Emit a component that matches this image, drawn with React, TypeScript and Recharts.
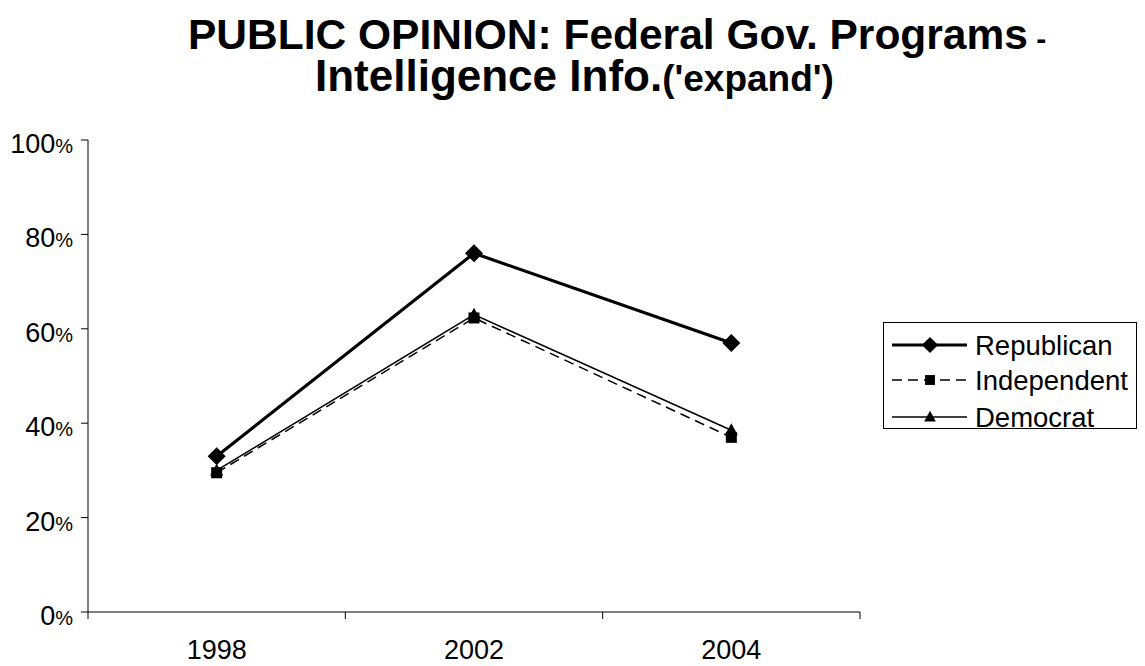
import React from 'react';
import { LineChart, Line, XAxis, YAxis, Legend } from 'recharts';

// survey years and share answering 'expand' (percent)
const years = ['1998', '2002', '2004'];
const republican = [33, 76, 57];
const independent = [29.5, 62.3, 37];
const democrat = [30, 63, 38.5];
const yTicks = [0, 20, 40, 60, 80, 100];

const data = years.map((year, i) => ({
  year,
  Republican: republican[i],
  Independent: independent[i],
  Democrat: democrat[i],
}));

const FONT = '"Liberation Sans", Arial, sans-serif';
const W = 1145;
const H = 666;
const PLOT_LEFT = 88;
const PLOT_RIGHT = 860;
const PLOT_TOP = 140;
const PLOT_BOTTOM = 612;
const HALF_BAND = (PLOT_RIGHT - PLOT_LEFT) / years.length / 2;

type Marker = 'diamond' | 'square' | 'triangle';

const SERIES: { key: string; width: number; dash?: string; marker: Marker }[] = [
  { key: 'Republican', width: 3.2, marker: 'diamond' },
  { key: 'Independent', width: 1.5, dash: '10 6', marker: 'square' },
  { key: 'Democrat', width: 1.5, marker: 'triangle' },
];

const markerShape = (kind: Marker, cx: number, cy: number, s = 1) => {
  if (kind === 'diamond') {
    const r = 9 * s;
    return <polygon points={`${cx},${cy - r} ${cx + r},${cy} ${cx},${cy + r} ${cx - r},${cy}`} fill="#000" />;
  }
  if (kind === 'square') {
    const h = 5.5 * s;
    return <rect x={cx - h} y={cy - h} width={h * 2} height={h * 2} fill="#000" />;
  }
  return <polygon points={`${cx},${cy - 7 * s} ${cx + 6.5 * s},${cy + 5 * s} ${cx - 6.5 * s},${cy + 5 * s}`} fill="#000" />;
};

const makeDot = (kind: Marker) => (props: any) => {
  const { cx, cy, index } = props;
  if (cx == null || cy == null) return <g key={index} />;
  return <g key={index}>{markerShape(kind, cx, cy)}</g>;
};

const XTick = (props: any) => {
  const { x, y, payload, index } = props;
  return (
    <g>
      <line x1={x - HALF_BAND} x2={x - HALF_BAND} y1={y} y2={y + 7} stroke="#000" />
      {index === years.length - 1 && (
        <line x1={x + HALF_BAND} x2={x + HALF_BAND} y1={y} y2={y + 7} stroke="#000" />
      )}
      <text x={x} y={y + 47} textAnchor="middle" fontFamily={FONT} fontSize={27} fill="#000">
        {payload.value}
      </text>
    </g>
  );
};

const YTick = (props: any) => {
  const { x, y, payload } = props;
  return (
    <g>
      <line x1={x - 7} x2={x} y1={y} y2={y} stroke="#000" />
      <text x={x - 15} y={y + 13} textAnchor="end" fontFamily={FONT} fill="#000">
        <tspan fontSize={27}>{payload.value}</tspan>
        <tspan fontSize={20}>%</tspan>
      </text>
    </g>
  );
};

const LegendBox = (props: any) => {
  const payload: any[] = props.payload || [];
  const rows = SERIES.filter((s) => payload.some((p) => p.dataKey === s.key || p.value === s.key));
  const rowY = [23, 58, 95];
  return (
    <svg width={258} height={108} style={{ display: 'block', overflow: 'visible' }}>
      <rect x={0.5} y={0.5} width={253} height={106} fill="#fff" stroke="#000" />
      {rows.map((s, i) => (
        <g key={s.key}>
          <line x1={9} x2={84} y1={rowY[i]} y2={rowY[i]} stroke="#000" strokeWidth={s.width} strokeDasharray={s.dash} />
          {markerShape(s.marker, 47, rowY[i], 0.9)}
          <text x={92} y={rowY[i] + 10} fontFamily={FONT} fontSize={27.5} fill="#000">
            {s.key}
          </text>
        </g>
      ))}
    </svg>
  );
};

export default function App() {
  return (
    <div style={{ position: 'absolute', left: 0, top: 0, width: W, height: H, background: '#fff' }}>
      <svg width={W} height={110} style={{ position: 'absolute', left: 0, top: 0, pointerEvents: 'none' }}>
        <text x={188} y={49} fontFamily={FONT} fontWeight="bold" fill="#000">
          <tspan fontSize={42.5}>PUBLIC OPINION: Federal Gov. Programs</tspan>
          <tspan fontSize={30}> -</tspan>
        </text>
        <text x={315} y={91} fontFamily={FONT} fontWeight="bold" fill="#000">
          <tspan fontSize={44}>Intelligence Info.</tspan>
          <tspan fontSize={37}>('expand')</tspan>
        </text>
      </svg>
      <div style={{ position: 'absolute', left: 0, top: 0 }}>
        <LineChart
          width={W}
          height={H}
          data={data}
          margin={{ top: PLOT_TOP, right: W - PLOT_RIGHT, bottom: 0, left: 0 }}
        >
          <XAxis
            dataKey="year"
            type="category"
            scale="band"
            height={H - PLOT_BOTTOM}
            axisLine={{ stroke: '#000' }}
            tickLine={false}
            tickSize={0}
            tickMargin={0}
            interval={0}
            tick={<XTick />}
          />
          <YAxis
            domain={[0, 100]}
            ticks={yTicks}
            width={PLOT_LEFT}
            axisLine={{ stroke: '#000' }}
            tickLine={false}
            tickSize={0}
            tickMargin={0}
            interval={0}
            tick={<YTick />}
          />
          <Legend
            layout="horizontal"
            verticalAlign="middle"
            align="center"
            content={<LegendBox />}
            wrapperStyle={{ left: 883, top: 322, width: 258, height: 108 }}
          />
          {SERIES.slice().reverse().map((s) => (
            <Line
              key={s.key}
              dataKey={s.key}
              stroke="#000"
              strokeWidth={s.width}
              strokeDasharray={s.dash}
              dot={makeDot(s.marker)}
              activeDot={false}
              isAnimationActive={false}
            />
          ))}
        </LineChart>
      </div>
    </div>
  );
}
